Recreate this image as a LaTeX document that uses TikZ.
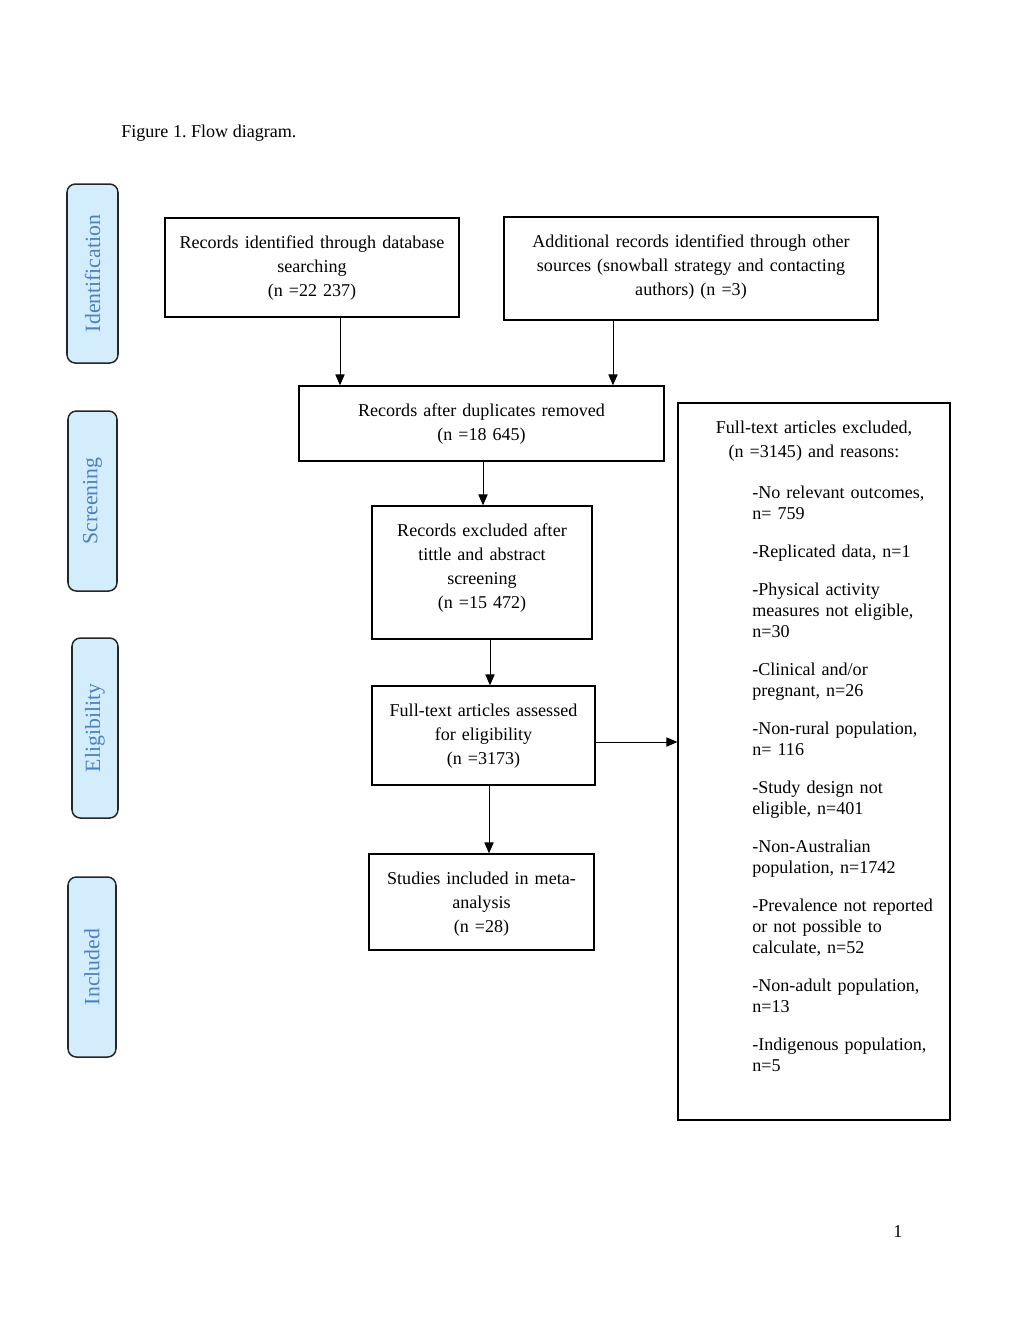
\documentclass[tikz,border=0pt]{standalone}
\usepackage{fontspec}
\setmainfont{Liberation Serif}
\usetikzlibrary{arrows.meta}
\definecolor{sidefill}{HTML}{D3EDFD}
\definecolor{sidetext}{HTML}{4A80C4}
\def\u{0.5977pt}
\newcommand\boxat[6][box]{\node[#1,minimum width={(#5-#3)*\u},minimum height={(#6-#4)*\u}] (#2) at ({(#3+#5)/2},{(#4+#6)/2}) {};}
\frenchspacing
\hyphenpenalty=10000
\begin{document}
\begin{tikzpicture}[x=0.5977pt,y=-0.5977pt,
  box/.style={draw=black,line width=0.8pt,inner sep=0pt},
  side/.style={draw=black!85,line width=0.9pt,fill=sidefill,rounded corners=5pt,inner sep=0pt},
  txt/.style={inner sep=0pt,anchor=base,align=center,font=\fontsize{10.8pt}{14.35pt}\selectfont},
  listtxt/.style={inner sep=0pt,anchor=base west,align=left,text width=200*\u,font=\fontsize{10.8pt}{12.55pt}\selectfont},
  sidetxt/.style={rotate=90,text=sidetext,font=\fontsize{13pt}{15pt}\selectfont,inner sep=0pt},
  arr/.style={line width=0.6pt,-{Triangle[length=6.5pt,width=5.5pt]}}]
\useasboundingbox (0,0) rectangle (1024,1325);
% caption and page number
\node[inner sep=0pt,anchor=base west,font=\fontsize{10.8pt}{14pt}\selectfont] (cap) at (121,137) {Figure 1. Flow diagram.};
\node[inner sep=0pt,anchor=base,font=\fontsize{10.8pt}{14pt}\selectfont] (pg) at (898,1237) {1};
% side labels
\boxat[side]{S1}{67}{184}{118}{363}
\boxat[side]{S2}{68}{411}{117}{591}
\boxat[side]{S3}{72}{638}{118}{818}
\boxat[side]{S4}{68}{877}{116}{1057}
\node[sidetxt] (S1t) at (S1.center) {Identification};
\node[sidetxt] (S2t) at (S2.center) {Screening};
\node[sidetxt] (S3t) at (S3.center) {Eligibility};
\node[sidetxt] (S4t) at (S4.center) {Included};
% boxes
\boxat{A}{165}{218}{459}{317}
\boxat{B}{504}{217}{878}{320}
\boxat{C}{299}{386}{664}{461}
\boxat{D}{372}{506}{592}{639}
\boxat{E}{372}{686}{595}{785}
\boxat{F}{369}{854}{594}{950}
\boxat{G}{678}{403}{950}{1120}
% texts
\node[txt,text width=294*\u] (At) at (312,248) {Records identified through database\\searching\\(n =22 237)};
\node[txt,text width=374*\u] (Bt) at (691,247) {Additional records identified through other\\sources (snowball strategy and contacting\\authors) (n =3)};
\node[txt,text width=365*\u] (Ct) at (481.5,416) {Records after duplicates removed\\(n =18 645)};
\node[txt,text width=220*\u,font=\fontsize{10.8pt}{14.5pt}\selectfont] (Dt) at (482,536) {Records excluded after\\tittle and abstract\\screening\\(n =15 472)};
\node[txt,text width=223*\u] (Et) at (483.5,716) {Full-text articles assessed\\for eligibility\\(n =3173)};
\node[txt,text width=225*\u] (Ft) at (481.5,884) {Studies included in meta-\\analysis\\(n =28)};
\node[txt,text width=272*\u] (Gt) at (814,433) {Full-text articles excluded,\\(n =3145) and reasons:};
\node[listtxt] (Gl) at (752,498) {-No relevant outcomes,\\n= 759\\[10.2pt]
-Replicated data, n=1\\[10.2pt]
-Physical activity\\measures not eligible,\\n=30\\[10.2pt]
-Clinical and/or\\pregnant, n=26\\[10.2pt]
-Non-rural population,\\n= 116\\[10.2pt]
-Study design not\\eligible, n=401\\[10.2pt]
-Non-Australian\\population, n=1742\\[10.2pt]
-Prevalence not reported\\or not possible to\\calculate, n=52\\[10.2pt]
-Non-adult population,\\n=13\\[10.2pt]
-Indigenous population,\\n=5};
% connectors
\coordinate (xa) at (340,0);
\coordinate (xb) at (613,0);
\coordinate (xc) at (483,0);
\coordinate (xd) at (490,0);
\coordinate (xe) at (489,0);
\coordinate (ye) at (0,742);
\draw[arr] (A.south -| xa) -- (C.north -| xa);
\draw[arr] (B.south -| xb) -- (C.north -| xb);
\draw[arr] (C.south -| xc) -- (D.north -| xc);
\draw[arr] (D.south -| xd) -- (E.north -| xd);
\draw[arr] (E.south -| xe) -- (F.north -| xe);
\draw[arr] (E.east |- ye) -- (G.west |- ye);
\end{tikzpicture}
\end{document}
